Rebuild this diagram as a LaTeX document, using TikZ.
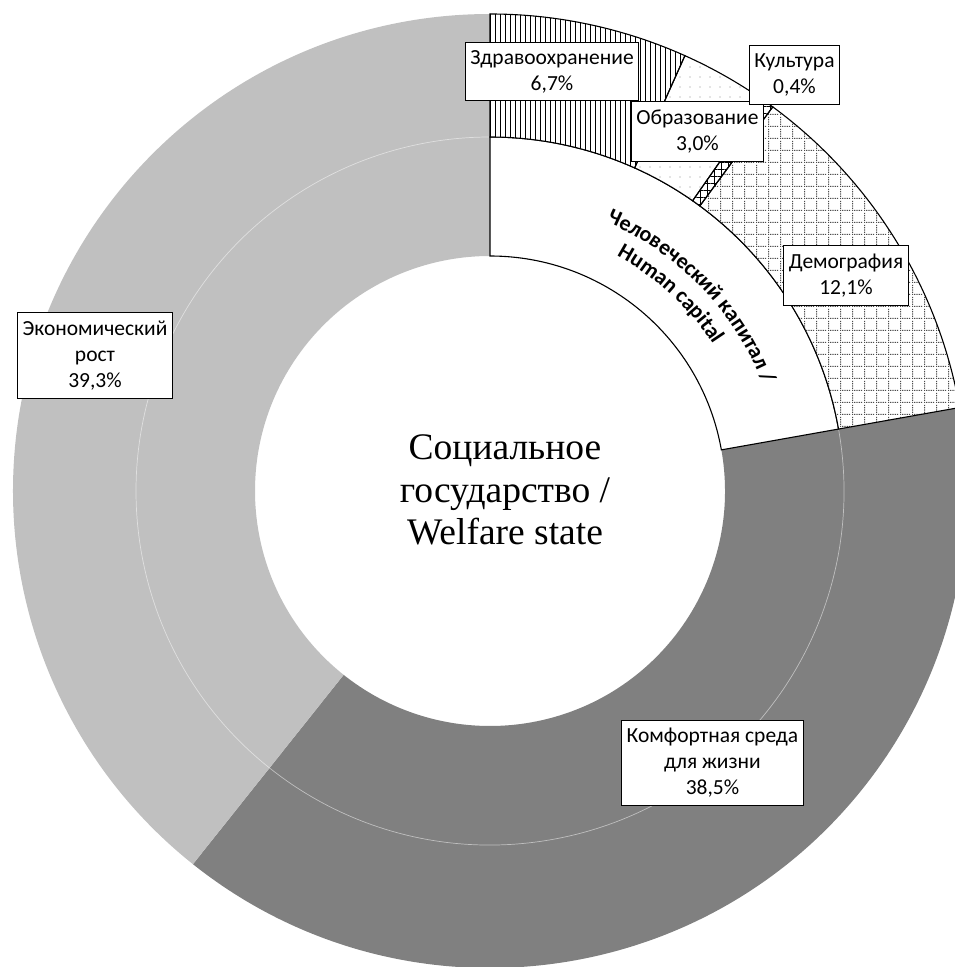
\documentclass[tikz,border=0pt]{standalone}
\usepackage{fontspec}
\setmainfont{Carlito}
\newfontfamily\tnrfont{Liberation Serif}
\usetikzlibrary{patterns,patterns.meta,decorations.text}
\pgfdeclarepattern{
  name=dotgrid,
  type=uncolored,
  bottom left={\pgfpoint{0pt}{0pt}},
  top right={\pgfpoint{12pt}{12pt}},
  tile size={\pgfpoint{12pt}{12pt}},
  code={
    \pgfpathrectangle{\pgfpoint{0pt}{0pt}}{\pgfpoint{1.3pt}{1.3pt}}
    \pgfpathrectangle{\pgfpoint{2.4pt}{0pt}}{\pgfpoint{1.3pt}{1.3pt}}
    \pgfpathrectangle{\pgfpoint{4.8pt}{0pt}}{\pgfpoint{1.3pt}{1.3pt}}
    \pgfpathrectangle{\pgfpoint{7.2pt}{0pt}}{\pgfpoint{1.3pt}{1.3pt}}
    \pgfpathrectangle{\pgfpoint{9.6pt}{0pt}}{\pgfpoint{1.3pt}{1.3pt}}
    \pgfpathrectangle{\pgfpoint{0pt}{2.4pt}}{\pgfpoint{1.3pt}{1.3pt}}
    \pgfpathrectangle{\pgfpoint{0pt}{4.8pt}}{\pgfpoint{1.3pt}{1.3pt}}
    \pgfpathrectangle{\pgfpoint{0pt}{7.2pt}}{\pgfpoint{1.3pt}{1.3pt}}
    \pgfpathrectangle{\pgfpoint{0pt}{9.6pt}}{\pgfpoint{1.3pt}{1.3pt}}
    \pgfusepath{fill}
  }
}
\newcommand{\annsec}[4]{(#1:#3) arc[start angle=#1, end angle=#2, radius=#3] -- (#2:#4) arc[start angle=#2, end angle=#1, radius=#4] -- cycle}
\definecolor{lightgr}{RGB}{192,192,192}
\definecolor{darkgr}{RGB}{128,128,128}
\tikzset{
  lbl/.style={draw=black, line width=1pt, fill=white, align=center,
    font=\fontsize{21.5}{26}\selectfont, inner xsep=5pt, inner ysep=8pt},
  segline/.style={draw=black, line width=1.1pt},
}
\begin{document}
\begin{tikzpicture}[x=1pt,y=1pt]
\useasboundingbox (-490,-476) rectangle (465,491);
% gray sectors (full depth)
\fill[darkgr] \annsec{10.08}{-128.52}{235}{477};
\fill[lightgr] \annsec{-128.52}{-270}{235}{477};
% faint separation between rings
\draw[white, opacity=0.5, line width=0.7pt] (10.08:354) arc[start angle=10.08, end angle=-270, radius=354];
% human capital inner segment
\draw[segline, fill=white] \annsec{90}{10.08}{235}{354};
% outer human capital segments
\fill[white] \annsec{90}{10.08}{354}{477};
\fill[pattern={Lines[angle=90, distance=5pt, line width=0.9pt]}, pattern color=black] \annsec{90}{65.88}{354}{477};
\fill[pattern={Dots[distance=10pt, radius=0.7pt]}, pattern color=black!45] \annsec{65.88}{55.08}{354}{477};
\fill[pattern={Hatch[angle=0, distance=7pt, line width=0.8pt]}, pattern color=black] \annsec{55.08}{53.64}{354}{477};
\fill[pattern=dotgrid, pattern color=black!70] \annsec{53.64}{10.08}{354}{477};
\draw[segline] \annsec{90}{65.88}{354}{477};
\draw[segline] \annsec{65.88}{55.08}{354}{477};
\draw[segline] \annsec{55.08}{53.64}{354}{477};
\draw[segline] \annsec{53.64}{10.08}{354}{477};
% curved label of inner segment
\path[decorate, decoration={text along path, text align=center,
  text={|\fontsize{22}{26}\selectfont\bfseries|Человеческий капитал /}}]
  (84:293) arc[start angle=84, end angle=4, radius=293];
\path[decorate, decoration={text along path, text align=center,
  text={|\fontsize{22}{26}\selectfont\bfseries|Human capital}}]
  (80:267) arc[start angle=80, end angle=15, radius=267];
% center text
\node[align=center, font=\tnrfont\fontsize{37.5}{42.5}\selectfont] (center) at (15,1) {Социальное\\государство /\\ Welfare state};
% labels
\node[lbl] (zdrav) at (62,419.5) {Здравоохранение\\6,7\%};
\node[lbl] (obraz) at (207.5,359.5) {Образование\\3,0\%};
\node[lbl] (kult) at (304.5,416) {Культура\\0,4\%};
\node[lbl] (demo) at (356,215.5) {Демография\\12,1\%};
\node[lbl] (econ) at (-395,135.5) {Экономический\\рост\\39,3\%};
\node[lbl] (komf) at (222.5,-272) {Комфортная среда\\для жизни\\38,5\%};
\end{tikzpicture}
\end{document}
